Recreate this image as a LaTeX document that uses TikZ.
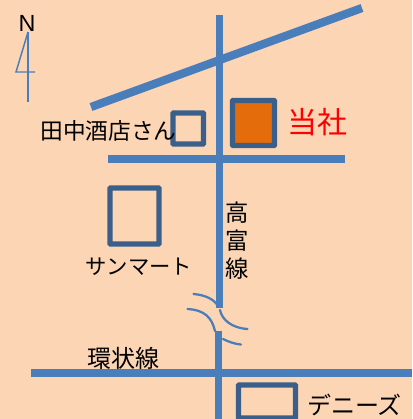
\documentclass[tikz,border=0pt]{standalone}
\usepackage{fontspec}
\setmainfont{Liberation Sans}
\newfontfamily\jpfont{Noto Sans CJK JP}
\definecolor{bg}{HTML}{FCD5B5}
\definecolor{road}{HTML}{4A7EBB}
\definecolor{bldg}{HTML}{3A5F8B}
\definecolor{office}{HTML}{E46C0A}
\begin{document}
\begin{tikzpicture}[x=0.75pt,y=-0.75pt,
  roadline/.style={draw=road,line width=5.6pt},
  thinroad/.style={draw=road,line width=1.7pt,line cap=round},
  northline/.style={draw=road,line width=1.1pt},
  bldgbox/.style={draw=bldg,line width=4pt,rounded corners=0.5pt},
  lbl/.style={font=\jpfont\fontsize{#1}{#1}\selectfont,text=black,inner sep=0pt}]
\useasboundingbox[fill=bg] (0,0) rectangle (412,419);
% roads
\coordinate (v1a) at (219.5,15); \coordinate (v1b) at (219.5,308);
\coordinate (v2a) at (218.5,331); \coordinate (v2b) at (218.5,419);
\coordinate (da) at (91,107); \coordinate (db) at (362,8);
\coordinate (h1a) at (108,159); \coordinate (h1b) at (345,159);
\coordinate (h2a) at (31,373); \coordinate (h2b) at (412,373);
\draw[roadline] (v1a) -- (v1b);
\draw[roadline] (v2a) -- (v2b);
\draw[roadline,line width=6.2pt] (da) -- (db);
\draw[roadline] (h1a) -- (h1b);
\draw[roadline] (h2a) -- (h2b);
% bridge curves
\draw[thinroad] (193.5,294) .. controls (205,295) and (214,299) .. (218,306);
\draw[thinroad] (187.5,309) .. controls (205,310) and (212,318) .. (215,331);
\draw[thinroad] (220,310) .. controls (222,320) and (232,328) .. (247.5,329);
\draw[thinroad] (223,339) .. controls (229,342) and (235,344) .. (241,344.5);
% buildings
\draw[bldgbox] (173,113) rectangle (203.5,144);
\draw[bldgbox,fill=office] (232.5,100.5) rectangle (274.5,145.5);
\draw[bldgbox] (110,188) rectangle (159,244);
\draw[bldgbox] (238.5,385) rectangle (295.5,418);
% north arrow
\coordinate (na) at (28,32); \coordinate (nb) at (28,102);
\coordinate (nc) at (16,72); \coordinate (nd) at (35,72);
\draw[northline] (na) -- (nb);
\draw[northline] (na) -- (nc) -- (nd);
\node[font=\fontsize{17.5}{17.5}\selectfont,inner sep=0pt] (n) at (27,23) {N};
% labels
\node[lbl=17] (tanaka) at (108.5,130.5) {田中酒店さん};
\node[lbl=22.5,text=red] (tosha) at (317.5,122.5) {当社};
\node[lbl=16] (sun) at (139,266.5) {サンマート};
\node[lbl=18] (kan) at (123.5,358.5) {環状線};
\node[lbl=18] (den) at (354.5,404.5) {デニーズ};
\node[lbl=17.5,align=center] (taka) at (237,241) {高\\[3.5pt]富\\[3.5pt]線};
\end{tikzpicture}
\end{document}
